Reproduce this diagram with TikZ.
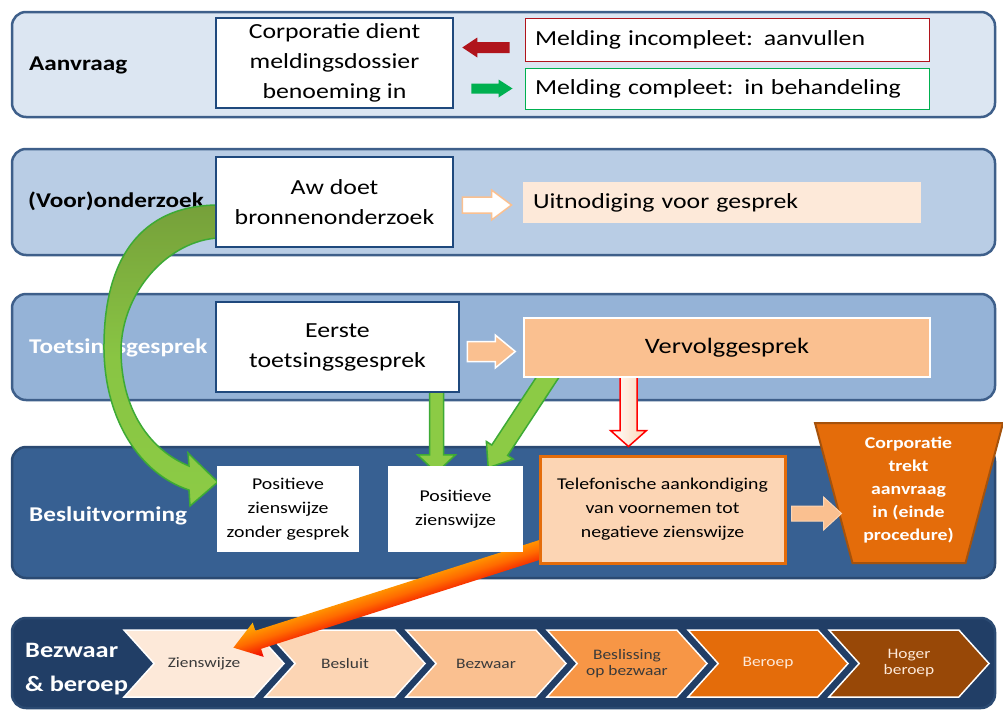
\documentclass[tikz,border=0pt]{standalone}
\usepackage{fontspec}
\setmainfont{Carlito}[FakeStretch=1.2]
\usetikzlibrary{calc,shapes.symbols}
\definecolor{rowAc}{HTML}{DCE6F2}
\definecolor{rowBc}{HTML}{B9CDE5}
\definecolor{rowCc}{HTML}{95B3D7}
\definecolor{rowDc}{HTML}{376092}
\definecolor{rowEc}{HTML}{213E66}
\definecolor{rowline}{HTML}{3E5F8A}
\definecolor{rowlineD}{HTML}{2B4A72}
\definecolor{navy}{HTML}{1F497D}
\definecolor{peachA}{HTML}{FDE9D9}
\definecolor{peachB}{HTML}{FCD5B4}
\definecolor{peachC}{HTML}{FAC090}
\definecolor{orangeD}{HTML}{F79646}
\definecolor{orangeE}{HTML}{E46C0A}
\definecolor{brownF}{HTML}{984807}
\definecolor{trapline}{HTML}{A5520C}
\definecolor{darkredc}{HTML}{B0141C}
\definecolor{okgreen}{HTML}{00B050}
\definecolor{arrgreen}{HTML}{8CCB45}
\definecolor{arrgreenline}{HTML}{3DAA35}
\definecolor{olivec}{HTML}{76A03A}
\definecolor{chevdark}{HTML}{3A3A3A}
\definecolor{bigyellow}{HTML}{FFB400}
\definecolor{bigorange}{HTML}{FF6A00}
\definecolor{bigred}{HTML}{F00000}
\pgfdeclarelayer{rowlayer}
\pgfdeclarelayer{arrowlayer}
\pgfsetlayers{rowlayer,arrowlayer,main}
\newcommand{\blockarrow}[6]{%
  \coordinate (baH) at ($(#3)!#6!(#2)$);
  \path[#1] ($(#2)!#4!90:(#3)$) -- ($(baH)!#4!90:(#3)$) -- ($(baH)!#5!90:(#3)$)
    -- (#3) -- ($(baH)!#5!-90:(#3)$) -- ($(baH)!#4!-90:(#3)$) -- ($(#2)!#4!-90:(#3)$) -- cycle;}
\begin{document}
\begin{tikzpicture}[x=1pt,y=-1pt,
  row/.style={draw=rowline, line width=2.5pt, rounded corners=14pt, minimum width=983pt, inner sep=0pt},
  lab/.style={anchor=west, font=\bfseries\fontsize{21}{25}\selectfont, inner sep=0pt},
  bigbox/.style={draw=navy, line width=2.5pt, fill=white, align=center, inner sep=0pt,
    font=\fontsize{21.5}{30}\selectfont},
  melding/.style={fill=white, line width=1pt, text width=384pt, align=left, inner xsep=10pt, inner ysep=0pt,
    font=\fontsize{21.5}{26}\selectfont},
  smallbox/.style={fill=white, align=center, inner sep=0pt, font=\fontsize{16.5}{24}\selectfont},
  chev/.style={signal, signal from=west, signal to=east, signal pointer angle=96,
    minimum width=160pt, minimum height=67pt, draw=white, line width=1.5pt, inner sep=0pt,
    align=center, font=\fontsize{14.5}{16}\selectfont},
  garrow/.style={fill=arrgreen, draw=arrgreenline, line width=1.5pt},
  peachbox/.style={fill=peachC, draw=white, line width=1.5pt, inner sep=0pt, font=\fontsize{22}{26}\selectfont},
]
\useasboundingbox (0,0) rectangle (1003,712);

% ================= boxes (main layer)
\node[bigbox, minimum width=237pt, minimum height=90pt] (corp) at (334.5,63)
  {Corporatie dient\\meldingsdossier\\benoeming in};
\node[melding, draw=darkredc, minimum height=43pt] (mincomp) at (727,39.5) {Melding incompleet: aanvullen};
\node[melding, draw=okgreen, minimum height=41pt] (mcomp) at (727,88.5) {Melding compleet: in behandeling};
\node[bigbox, minimum width=237pt, minimum height=90pt] (aw) at (334.5,202) {Aw doet\\bronnenonderzoek};
\node[melding, fill=peachA, minimum height=41pt, text width=378pt] (uitn) at (722,202.5) {Uitnodiging voor gesprek};
\node[bigbox, minimum width=243pt, minimum height=90pt] (eerste) at (337.5,347) {Eerste\\toetsingsgesprek};
\node[peachbox, minimum width=406pt, minimum height=59pt] (verv) at (727,347.5) {Vervolggesprek};
\node[smallbox, minimum width=142pt, minimum height=86pt] (pos1) at (288,509) {Positieve\\zienswijze\\zonder gesprek};
\node[smallbox, minimum width=135pt, minimum height=86pt] (pos2) at (455.5,509) {Positieve\\zienswijze};
\node[smallbox, fill=peachB, draw=orangeE, line width=3pt, minimum width=245pt, minimum height=107pt] (tel)
  at (662.5,509.5) {Telefonische aankondiging\\van voornemen tot\\negatieve zienswijze};
\node[align=center, text=white, inner sep=0pt, font=\bfseries\fontsize{16.5}{23}\selectfont] (trek)
  at (908.5,490) {Corporatie\\trekt\\aanvraag\\in (einde\\procedure)};

% ================= background, rows, chevrons, labels
\begin{pgfonlayer}{rowlayer}
\fill[white] (0,0) rectangle (1003,712);
\node[row, fill=rowAc, minimum height=105pt] (raan) at (503.5,64.5) {};
\node[row, fill=rowBc, minimum height=106pt] (rvoor) at (503.5,202) {};
\node[row, fill=rowCc, minimum height=106pt] (rtoets) at (503.5,347) {};
\node[row, fill=rowDc, draw=rowlineD, minimum height=131pt] (rbesl) at (503.5,512.5) {};
\node[row, fill=rowEc, draw=rowlineD, minimum height=90pt] (rbezw) at (503.5,663) {};

\node[chev, fill=peachA, text=chevdark] (ch1) at (204,663.5) {Zienswijze};
\node[chev, fill=peachB, text=chevdark] (ch2) at (345,663.5) {Besluit};
\node[chev, fill=peachC, text=chevdark] (ch3) at (486,663.5) {Bezwaar};
\node[chev, fill=orangeD, text=chevdark] (ch4) at (627,663.5) {Beslissing\\op bezwaar};
\node[chev, fill=orangeE, text=peachA] (ch5) at (768,663.5) {Beroep};
\node[chev, fill=brownF, text=peachA] (ch6) at (909,663.5) {Hoger\\beroep};

\node[lab] (laan) at (29,65) {Aanvraag};
\node[lab] (lvoor) at (28,201) {(Voor)onderzoek};
\node[lab, text=white] (ltoets) at (29,348) {Toetsingsgesprek};
\node[lab, text=white] (lbesl) at (29,516) {Besluitvorming};
\node[lab, text=white, align=left, font=\bfseries\fontsize{22}{34}\selectfont] (lbezw) at (25,669) {Bezwaar\\\& beroep};
\end{pgfonlayer}

% ================= arrows and trapezoid shape
\begin{pgfonlayer}{arrowlayer}
% curved green arrow: Aw doet bronnenonderzoek -> Positieve zienswijze zonder gesprek
\shade[top color=olivec, bottom color=arrgreen, middle color=arrgreen!85!olivec, draw=arrgreenline, line width=1.5pt]
  ($(aw.west)+(4,3)$) .. controls (140,205) and (103,260) .. (104,350)
  .. controls (105,420) and (140,474) .. (189,490)
  -- (190,506) -- ($(pos1.west)+(1,-27)$) -- (188,453) -- (189,466)
  .. controls (150,450) and (121,410) .. (121,350)
  .. controls (122,290) and (170,240) .. ($(aw.west)+(4,36)$) -- cycle;

% trapezoid
\path[fill=orangeE, draw=trapline, line width=2pt]
  ($(trek)+(-93.5,-67)$) -- ($(trek)+(94.5,-67)$) -- ($(trek)+(57,73)$) -- ($(trek)+(-56,73)$) -- cycle;

\coordinate (redtail) at ($(mincomp.west)+(-15,8)$);
\coordinate (redtip) at ($(corp.east)+(8,-15.5)$);
\blockarrow{fill=darkredc}{redtail}{redtip}{5.5pt}{10pt}{15pt}
\coordinate (gtail) at ($(corp.east)+(17,25.5)$);
\coordinate (gtip) at ($(mcomp.west)+(-12,0)$);
\blockarrow{fill=okgreen}{gtail}{gtip}{5pt}{9pt}{14pt}
\coordinate (a2t) at ($(aw.east)+(8,3)$);
\coordinate (a2h) at ($(uitn.west)+(-11,2.5)$);
\blockarrow{fill=white, draw=peachC, line width=1.5pt}{a2t}{a2h}{8pt}{15pt}{20pt}
\coordinate (a3t) at ($(eerste.east)+(7,4.5)$);
\coordinate (a3h) at ($(verv.west)+(-8,4)$);
\blockarrow{fill=peachC, draw=white, line width=1.5pt}{a3t}{a3h}{10pt}{16.5pt}{20pt}

\coordinate (g2t) at ($(eerste.south)+(99,-4)$);
\coordinate (g2h) at ($(pos2.north)+(-19,7)$);
\blockarrow{garrow}{g2t}{g2h}{7pt}{19pt}{18pt}
\coordinate (g3t) at ($(verv.south west)+(28,-6)$);
\coordinate (g3h) at ($(pos2.north east)+(-35,2)$);
\blockarrow{garrow}{g3t}{g3h}{9.5pt}{16pt}{21pt}
\coordinate (r2t) at ($(verv.south)+(-98.5,-6)$);
\coordinate (r2h) at ($(tel.north)+(-34,-8)$);
\blockarrow{left color=white, right color=peachB, draw=red, line width=1.5pt}{r2t}{r2h}{8.5pt}{18pt}{16pt}
\coordinate (a4t) at ($(tel.east)+(5,4)$);
\coordinate (a4h) at ($(a4t)+(50,0)$);
\blockarrow{fill=peachC, draw=peachB, line width=1pt}{a4t}{a4h}{7.5pt}{16.5pt}{18pt}

% big gradient arrow: Telefonische aankondiging -> Zienswijze
\coordinate (bigtail) at ($(tel.south west)+(15,-19)$);
\coordinate (bigtip) at ($(ch1.north)+(31,-22)$);
\begin{scope}[transform canvas={shift={(bigtail)}, rotate=197.7}]
  \shade[top color=bigred, bottom color=bigyellow, middle color=bigorange]
    (0,-9.5) -- (310,-9.5) -- (310,-18) -- (336,0) -- (310,18) -- (310,9.5) -- (0,9.5) -- cycle;
\end{scope}
\end{pgfonlayer}
\end{tikzpicture}
\end{document}
